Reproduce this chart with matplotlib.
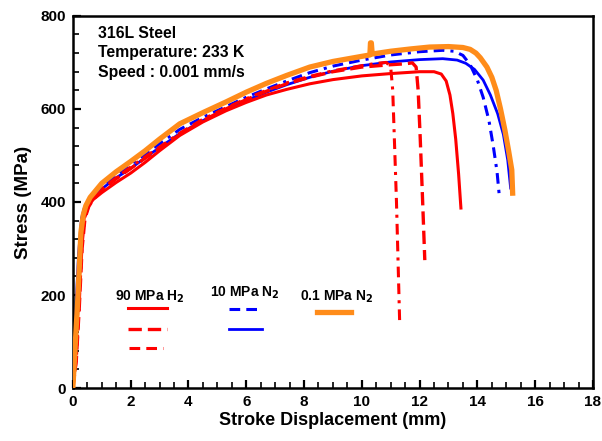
import matplotlib
matplotlib.use("Agg")
import matplotlib.pyplot as plt
from matplotlib.ticker import MultipleLocator

plt.rcParams['font.family'] = ['Liberation Sans', 'DejaVu Sans']
plt.rcParams['font.weight'] = 'bold'
plt.rcParams['mathtext.default'] = 'bf'

# ---------------- data ----------------
orange_x = [0, 0.08, 0.17, 0.28, 0.36, 0.45, 0.6, 0.8, 1.0, 1.5, 2.0, 2.5, 3.0, 3.7, 4.5,
            5.3, 6.0, 6.7, 7.4, 8.2, 9.0, 10.0, 10.28, 10.3, 10.33, 10.36, 11.0, 11.7,
            12.35, 13.0, 13.5, 13.75, 13.95, 14.1, 14.33, 14.5, 14.65, 14.8, 14.95, 15.08,
            15.19, 15.22]
orange_y = [0, 90, 190, 335, 372, 392, 410, 425, 440, 465, 487, 510, 535, 568, 592,
            615, 636, 655, 672, 690, 702, 713, 716, 742, 742, 718, 724, 729,
            733, 734, 732, 728, 720, 710, 690, 668, 640, 600, 555, 510,
            469, 419]

blue_dash_x = [0, 0.08, 0.17, 0.28, 0.38, 0.5, 0.8, 1.0, 1.5, 2.0, 2.5, 3.0, 3.7, 4.5,
               5.3, 6.0, 6.7, 7.4, 8.2, 9.0, 10.0, 11.0, 12.0, 12.8, 13.2, 13.5, 13.75,
               14.0, 14.2, 14.4, 14.55, 14.68, 14.75]
blue_dash_y = [0, 100, 200, 340, 380, 398, 420, 432, 458, 480, 503, 525, 556, 582,
               605, 625, 643, 660, 678, 692, 705, 716, 723, 726, 724, 715, 695,
               662, 625, 575, 520, 465, 419]

blue_solid_x = [0, 0.05, 0.12, 0.2, 0.3, 0.4, 0.6, 1.0, 1.5, 2.0, 2.5, 3.0, 3.7, 4.5,
                5.3, 6.0, 6.7, 7.4, 8.2, 9.0, 10.0, 11.0, 12.0, 12.8, 13.3, 13.6, 13.9,
                14.2, 14.45, 14.7, 14.9, 15.05, 15.15]
blue_solid_y = [0, 120, 190, 290, 365, 388, 408, 428, 452, 472, 495, 517, 547, 575,
                598, 618, 636, 652, 668, 681, 693, 701, 706, 708, 705, 698, 685,
                662, 630, 590, 545, 490, 430]

red_solid_x = [0, 0.1, 0.2, 0.3, 0.4, 0.5, 0.7, 1.0, 1.5, 2.0, 2.5, 3.0, 3.7, 4.5, 5.3,
               6.0, 6.7, 7.4, 8.2, 9.0, 10.0, 11.0, 12.0, 12.5, 12.75, 12.92, 13.05,
               13.15, 13.25, 13.35, 13.43]
red_solid_y = [0, 80, 200, 320, 370, 388, 405, 420, 442, 462, 485, 510, 543, 572, 596,
               614, 630, 642, 654, 663, 671, 676, 680, 680, 675, 660, 630,
               590, 535, 460, 387]

red_dash_x = [0, 0.12, 0.22, 0.32, 0.42, 0.55, 0.7, 1.0, 1.5, 2.0, 2.5, 3.0, 3.7, 4.5,
              5.3, 6.0, 6.7, 7.4, 8.2, 9.0, 10.0, 11.0, 11.5, 11.75, 11.88, 11.95, 12.02,
              12.1, 12.18]
red_dash_y = [0, 60, 170, 300, 365, 390, 405, 425, 450, 472, 494, 515, 545, 575,
              600, 620, 638, 654, 668, 680, 690, 695, 697, 699, 690, 640, 540,
              410, 275]

red_dashdot_x = [0, 0.12, 0.22, 0.32, 0.42, 0.55, 0.7, 1.0, 1.5, 2.0, 2.5, 3.0, 3.7, 4.5,
                 5.3, 6.0, 6.7, 7.4, 8.2, 9.0, 10.0, 10.5, 10.85, 11.0, 11.07, 11.13,
                 11.2, 11.26, 11.31]
red_dashdot_y = [0, 60, 180, 310, 368, 392, 408, 428, 452, 475, 497, 518, 548, 578,
                 602, 622, 640, 656, 670, 682, 693, 698, 700, 690, 640, 530,
                 400, 260, 142]

x_ticks = [0, 2, 4, 6, 8, 10, 12, 14, 16, 18]
y_ticks = [0, 200, 400, 600, 800]
group_labels = ["90 MPa H$_2$", "10 MPa N$_2$", "0.1 MPa N$_2$"]
info_lines = ["316L Steel", "Temperature: 233 K", "Speed : 0.001 mm/s"]

RED = '#ff0000'
BLUE = '#0000ff'
ORANGE = '#ff8c1a'
DASH = (4.0, 1.8)
DASHDOT = (3.5, 2.0, 3.5, 2.0, 1.0, 2.0)

fig = plt.figure(figsize=(6.02, 4.41), dpi=100)
ax = fig.add_axes([0.121, 0.120, 0.864, 0.844])

ax.plot(blue_dash_x, blue_dash_y, color=BLUE, lw=2.2, dashes=DASHDOT, zorder=2)
ax.plot(blue_solid_x, blue_solid_y, color=BLUE, lw=2.0, zorder=2)
ax.plot(red_solid_x, red_solid_y, color=RED, lw=2.2, zorder=3)
ax.plot(red_dash_x, red_dash_y, color=RED, lw=2.4, dashes=DASH, zorder=3)
ax.plot(red_dashdot_x, red_dashdot_y, color=RED, lw=2.2, dashes=DASHDOT, zorder=3)
ax.plot(orange_x, orange_y, color=ORANGE, lw=3.8, zorder=4, solid_joinstyle='round')

# legend built by hand
ax.text(2.66, 196, group_labels[0], ha='center', va='center', fontsize=10, fontweight='bold')
ax.text(5.95, 204, group_labels[1], ha='center', va='center', fontsize=10, fontweight='bold')
ax.text(9.13, 196, group_labels[2], ha='center', va='center', fontsize=10, fontweight='bold')
ax.plot([1.90, 3.25], [172, 172], color=RED, lw=2.2)
ax.plot([1.90, 3.25], [127, 127], color=RED, lw=2.4, dashes=DASH)
ax.plot([1.93, 3.12], [86, 86], color=RED, lw=2.2, dashes=DASHDOT)
ax.plot([5.40, 6.54], [170, 170], color=BLUE, lw=2.2, dashes=DASHDOT)
ax.plot([5.40, 6.54], [127, 127], color=BLUE, lw=2.0)
ax.plot([8.45, 9.62], [163, 163], color=ORANGE, lw=3.8)

for i, s in enumerate(info_lines):
    ax.text(0.865, 763 - i * 42, s, ha='left', va='center', fontsize=11.3, fontweight='bold')

ax.set_xlim(0, 18)
ax.set_ylim(0, 800)
ax.set_xticks(x_ticks)
ax.set_yticks(y_ticks)
ax.xaxis.set_minor_locator(MultipleLocator(0.5))
ax.yaxis.set_minor_locator(MultipleLocator(40))
ax.tick_params(axis='both', which='major', direction='in', length=6, width=1.6,
               labelsize=11, pad=5, top=False, right=False)
ax.tick_params(axis='both', which='minor', direction='in', length=4, width=1.2,
               top=False, right=False)
for lab in ax.get_xticklabels() + ax.get_yticklabels():
    lab.set_fontweight('bold')
for sp in ax.spines.values():
    sp.set_linewidth(1.8)

ax.set_xlabel("Stroke Displacement (mm)", fontsize=13, fontweight='bold', labelpad=2)
ax.set_ylabel("Stress (MPa)", fontsize=13.5, fontweight='bold', labelpad=6)

fig.savefig("out.png", dpi=100)
